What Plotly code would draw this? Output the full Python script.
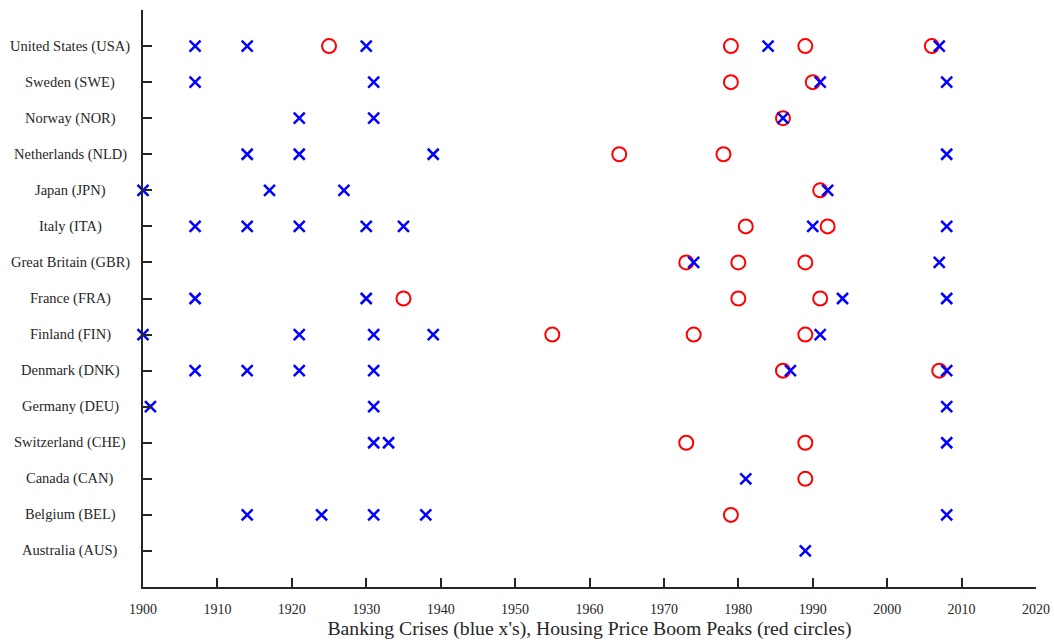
import plotly.graph_objects as go

countries = ["Australia (AUS)", "Belgium (BEL)", "Canada (CAN)", "Switzerland (CHE)",
             "Germany (DEU)", "Denmark (DNK)", "Finland (FIN)", "France (FRA)",
             "Great Britain (GBR)", "Italy (ITA)", "Japan (JPN)", "Netherlands (NLD)",
             "Norway (NOR)", "Sweden (SWE)", "United States (USA)"]

banking_crises = [
    [1989],                                         # AUS
    [1914, 1924, 1931, 1938, 2008],                 # BEL
    [1981],                                         # CAN
    [1931, 1933, 2008],                             # CHE
    [1901, 1931, 2008],                             # DEU
    [1907, 1914, 1921, 1931, 1987, 2008],           # DNK
    [1900, 1921, 1931, 1939, 1991],                 # FIN
    [1907, 1930, 1994, 2008],                       # FRA
    [1974, 2007],                                   # GBR
    [1907, 1914, 1921, 1930, 1935, 1990, 2008],     # ITA
    [1900, 1917, 1927, 1992],                       # JPN
    [1914, 1921, 1939, 2008],                       # NLD
    [1921, 1931, 1986],                             # NOR
    [1907, 1931, 1991, 2008],                       # SWE
    [1907, 1914, 1930, 1984, 2007],                 # USA
]

housing_peaks = [
    [],                                             # AUS
    [1979],                                         # BEL
    [1989],                                         # CAN
    [1973, 1989],                                   # CHE
    [],                                             # DEU
    [1986, 2007],                                   # DNK
    [1955, 1974, 1989],                             # FIN
    [1935, 1980, 1991],                             # FRA
    [1973, 1980, 1989],                             # GBR
    [1981, 1992],                                   # ITA
    [1991],                                         # JPN
    [1964, 1978],                                   # NLD
    [1986],                                         # NOR
    [1979, 1990],                                   # SWE
    [1925, 1979, 1989, 2006],                       # USA
]

x_ticks = list(range(1900, 2021, 10))

# flatten
bx, by = [], []
for i, yrs in enumerate(banking_crises):
    for yr in yrs:
        bx.append(yr)
        by.append(i + 1)
hx, hy = [], []
for i, yrs in enumerate(housing_peaks):
    for yr in yrs:
        hx.append(yr)
        hy.append(i + 1)

FONT = "Liberation Serif"
AXC = "#262626"

fig = go.Figure()
fig.add_trace(go.Scatter(
    x=hx, y=hy, mode="markers", name="Housing Price Boom Peaks",
    marker=dict(symbol="circle-open", size=14, color="#ff0000",
                line=dict(width=2, color="#ff0000")),
    showlegend=False, cliponaxis=False))
fig.add_trace(go.Scatter(
    x=bx, y=by, mode="markers", name="Banking Crises",
    marker=dict(symbol="x-thin-open", size=11, color="#0000ff",
                line=dict(width=2.5, color="#0000ff")),
    showlegend=False, cliponaxis=False))

for i, name in enumerate(countries):
    fig.add_annotation(x=0, xref="paper", xshift=-73, xanchor="center",
                       y=i + 1, yref="y", yanchor="middle",
                       text=name, showarrow=False,
                       font=dict(family=FONT, size=14.5, color=AXC))

fig.update_layout(
    width=1054, height=644,
    margin=dict(l=143, r=18, t=10, b=57),
    plot_bgcolor="white", paper_bgcolor="white",
    font=dict(family=FONT, color=AXC),
)
fig.update_xaxes(
    range=[1900, 2020], tickvals=x_ticks, ticktext=[str(t) for t in x_ticks],
    ticks="inside", ticklen=9, tickwidth=1.5, tickcolor=AXC,
    showline=True, linecolor=AXC, linewidth=1.5, showgrid=False, zeroline=False,
    tickfont=dict(family=FONT, size=14, color=AXC), ticklabelstandoff=8,
    automargin=False,
    title=dict(text="Banking Crises (blue x's), Housing Price Boom Peaks (red circles)",
               font=dict(family=FONT, size=19.7, color=AXC), standoff=5),
)
fig.update_yaxes(
    range=[0, 16], tickvals=list(range(1, len(countries) + 1)),
    showticklabels=False, automargin=False,
    ticks="inside", ticklen=9, tickwidth=1.5, tickcolor=AXC,
    showline=True, linecolor=AXC, linewidth=1.5, showgrid=False, zeroline=False,
)

fig.write_html("out.html", config={"displayModeBar": False},
               post_script="document.body.style.margin='0';")
